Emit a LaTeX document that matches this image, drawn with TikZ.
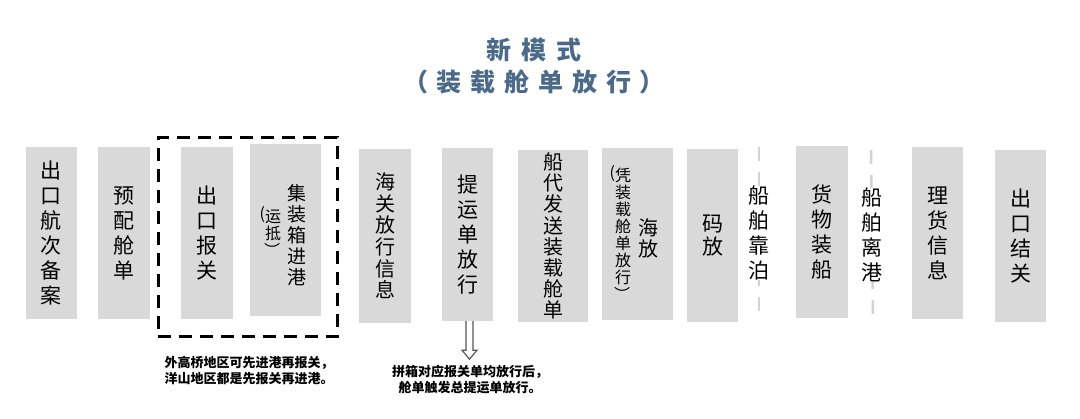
\documentclass[tikz,border=0pt]{standalone}
\usepackage{fontspec}
\usepackage{graphicx}
\newfontfamily\cjk{Noto Sans CJK SC}
\usetikzlibrary{calc}
\definecolor{boxgray}{HTML}{D9D9D9}
\definecolor{titleblue}{RGB}{76,106,136}
\definecolor{dashgray}{HTML}{D3D3D3}
\definecolor{arrowgray}{HTML}{555555}
\newcommand\rp{\rotatebox[origin=c]{-90}{）}}
\begin{document}
\begin{tikzpicture}[x=1pt,y=-1pt,
  stepbox/.style={fill=boxgray, draw=none, inner sep=0pt, align=center,
    font=\cjk\fontsize{21}{25}\selectfont},
  vtext/.style={inner sep=0pt, align=center, font=\cjk\fontsize{21}{25}\selectfont},
  subtext/.style={inner sep=0pt, align=center, font=\cjk\fontsize{16}{17}\selectfont},
  note/.style={inner sep=0pt, align=center, font=\cjk\bfseries\fontsize{13}{16}\selectfont},
  groupbox/.style={draw=black, line width=3pt, dash pattern=on 13pt off 8pt},
  sepline/.style={draw=dashgray, line width=2.5pt, dash pattern=on 14pt off 11pt},
  hollowarrow/.style={draw=arrowgray, fill=white, line width=1.2pt, line join=miter}
]
\useasboundingbox (0,0) rectangle (1080,419);

% title
\node[inner sep=0pt, align=center, text=titleblue,
  font=\cjk\bfseries\fontsize{25}{32}\selectfont] (title) at (534,66)
  {新\hspace{10pt}模\hspace{10pt}式\\（\hspace{8pt}装\hspace{9pt}载\hspace{9pt}舱\hspace{9pt}单\hspace{9pt}放\hspace{9pt}行\hspace{8pt}）};

% boxes
\node[stepbox, minimum width=51pt, minimum height=172pt] (b1) at (51.5,233) {出\\口\\航\\次\\备\\案};
\node[stepbox, minimum width=52pt, minimum height=172pt] (b2) at (124,233) {预\\配\\舱\\单};
\node[stepbox, minimum width=52pt, minimum height=172pt] (b3) at (207,233) {出\\口\\报\\关};
\node[stepbox, minimum width=71pt, minimum height=172pt] (b4) at (285.5,230) {};
\node[vtext, font=\cjk\fontsize{19}{21}\selectfont] (b4main) at (297,235) {集\\装\\箱\\进\\港};
\node[subtext] (b4sub) at (273,232) {\llap{\raisebox{3pt}{(}}运\\抵\\\rp};

\node[stepbox, minimum width=52pt, minimum height=174pt, font=\cjk\fontsize{20}{21.6}\selectfont] (b5) at (385,236) {海\\关\\放\\行\\信\\息};
\node[stepbox, minimum width=51pt, minimum height=173pt] (b6) at (467.5,234.5) {提\\运\\单\\放\\行};
\node[stepbox, minimum width=70pt, minimum height=172pt, font=\cjk\fontsize{20}{21.2}\selectfont] (b7) at (553,236) {船\\代\\发\\送\\装\\载\\舱\\单};
\node[stepbox, minimum width=71pt, minimum height=172pt] (b8) at (637.5,234) {};
\node[vtext, font=\cjk\fontsize{20}{21}\selectfont] (b8main) at (648,238) {海\\放};
\node[subtext] (b8sub) at (623,234) {\llap{\raisebox{3pt}{(}}凭\\装\\载\\舱\\单\\放\\行\\\rp};
\node[stepbox, minimum width=51pt, minimum height=173pt, font=\cjk\fontsize{21}{23}\selectfont] (b9) at (712.5,235.5) {码\\放};

% separator lines with labels
\coordinate (l1top) at (759,147);
\coordinate (l1bot) at (759,318);
\draw[sepline] (l1top) -- (l1bot);
\node[vtext, fill=white] (berth) at (759,233) {船\\舶\\靠\\泊};

\node[stepbox, minimum width=52pt, minimum height=172pt] (b10) at (822,232) {货\\物\\装\\船};

\coordinate (l2top) at (871,150);
\coordinate (l2bot) at (873,322);
\draw[sepline] (l2top) -- (l2bot);
\node[vtext, fill=white] (depart) at (872,235) {船\\舶\\离\\港};

\node[stepbox, minimum width=51pt, minimum height=172pt] (b11) at (937.5,233) {理\\货\\信\\息};
\node[stepbox, minimum width=51pt, minimum height=172pt] (b12) at (1020.5,236) {出\\口\\结\\关};

% dashed group box
\node[groupbox, inner sep=0pt, minimum width=179pt, minimum height=199pt] (grp) at (247.5,237.5) {};

% notes
\node[note] (note1) at (249,371) {外高桥地区可先进港再报关，\\洋山地区都是先报关再进港。};
\node[note] (note2) at (470,380) {拼箱对应报关单均放行后，\\舱单触发总提运单放行。};

% hollow arrow
\coordinate (at) at ($(b6.south)+(2,0)$);
\draw[hollowarrow] ($(at)+(-3.5,0)$) -- ($(at)+(-3.5,29)$) -- ($(at)+(-7.5,29)$)
  -- ($(at)+(0,38)$) -- ($(at)+(7.5,29)$) -- ($(at)+(3.5,29)$) -- ($(at)+(3.5,0)$);
\end{tikzpicture}
\end{document}
